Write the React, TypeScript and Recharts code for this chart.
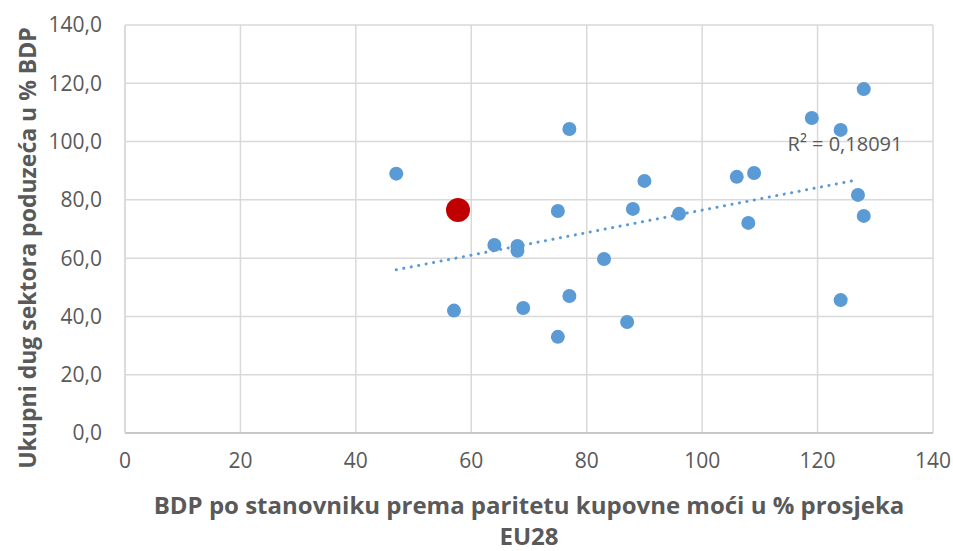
import { ScatterChart, Scatter, XAxis, YAxis, CartesianGrid, Label } from 'recharts'

// BDP po stanovniku (PPS, % EU28) vs. ukupni dug sektora poduzeća (% BDP)
const gdpX = [47, 57, 64, 68, 68, 69, 75, 75, 77, 77, 83, 87, 88, 90, 96, 106, 108, 109, 119, 124, 124, 127, 128, 128]
const debtY = [89, 42, 64.5, 64.2, 62.5, 42.9, 76.2, 33, 104.3, 47, 59.7, 38.1, 76.9, 86.5, 75.2, 87.9, 72.1, 89.2, 108.1, 104, 45.6, 81.7, 118, 74.5]

// Hrvatska, istaknuta
const hrX = [57.7]
const hrY = [76.5]

// linearni trend (krajnje točke očitane s grafikona)
const trendX = [47, 127]
const trendY = [56, 86.9]
const r2Label = 'R² = 0,18091'

const xTicks = [0, 20, 40, 60, 80, 100, 120, 140]
const yTicks = [0, 20, 40, 60, 80, 100, 120, 140]

const points = gdpX.map((x, i) => ({ x, y: debtY[i] }))
const hr = hrX.map((x, i) => ({ x, y: hrY[i] }))
const trend = trendX.map((x, i) => ({ x, y: trendY[i] }))

const FONT = '"Open Sans", sans-serif'
const TXT = '#595959'
const BLUE = '#5b9bd5'

const tick = { fontSize: 21, fill: TXT, fontFamily: FONT }
const fmtY = (v: number) => v.toFixed(1).replace('.', ',')

const XTitle = ({ viewBox }: any) => {
  const cx = viewBox.x + viewBox.width / 2
  return (
    <text textAnchor="middle" fill={TXT} fontFamily={FONT} fontSize={24} fontWeight="bold">
      <tspan x={cx} y={514}>BDP po stanovniku prema paritetu kupovne moći u % prosjeka</tspan>
      <tspan x={cx} y={545}>EU28</tspan>
    </text>
  )
}

const YTitle = () => (
  <text
    transform="translate(36, 248) rotate(-90)"
    textAnchor="middle"
    fill={TXT}
    fontFamily={FONT}
    fontSize={23}
    fontWeight="bold"
  >
    Ukupni dug sektora poduzeća u % BDP
  </text>
)

const Dot = ({ cx, cy, r, fill }: any) => <circle cx={cx} cy={cy} r={r} fill={fill} />

export default function App() {
  return (
    <div style={{ position: 'absolute', left: 0, top: 0, background: '#fff' }}>
      <ScatterChart width={953} height={551} margin={{ top: 25, right: 20, left: 0, bottom: 0 }}>
        <CartesianGrid stroke="#d9d9d9" strokeWidth={1.5} />
        <XAxis
          type="number"
          dataKey="x"
          domain={[0, 140]}
          ticks={xTicks}
          tick={tick}
          tickLine={false}
          axisLine={{ stroke: '#bfbfbf', strokeWidth: 1.5 }}
          height={118}
          tickMargin={14}
        >
          <Label content={<XTitle />} />
        </XAxis>
        <YAxis
          type="number"
          dataKey="y"
          domain={[0, 140]}
          ticks={yTicks}
          tickFormatter={fmtY}
          tick={tick}
          tickLine={false}
          axisLine={{ stroke: '#d9d9d9', strokeWidth: 1.5 }}
          width={125}
          tickMargin={17}
        >
          <Label content={<YTitle />} />
        </YAxis>
        <Scatter
          data={trend}
          fill={BLUE}
          line={{ stroke: BLUE, strokeWidth: 3, strokeDasharray: '0.1 7.5', strokeLinecap: 'round' }}
          shape={() => null}
          isAnimationActive={false}
        />
        <Scatter data={points} fill={BLUE} shape={(p: any) => <Dot {...p} r={7} fill={BLUE} />} isAnimationActive={false} />
        <Scatter data={hr} fill="#c00000" shape={(p: any) => <Dot {...p} r={12} fill="#c00000" />} isAnimationActive={false} />
        <text x={845} y={151} textAnchor="middle" fill={TXT} fontFamily={FONT} fontSize={20}>
          {r2Label}
        </text>
      </ScatterChart>
    </div>
  )
}
